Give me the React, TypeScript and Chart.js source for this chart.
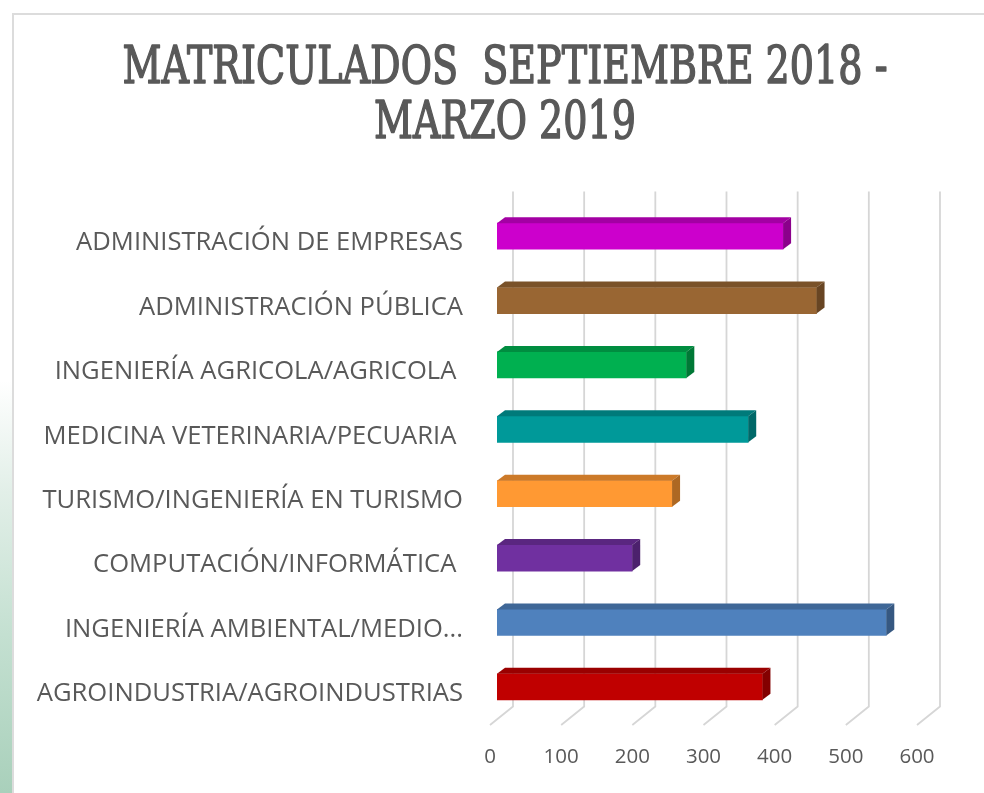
import React, { useEffect, useRef } from "react";
import { Chart, registerables } from "chart.js";

Chart.register(...registerables);

// ---- data ----
const categories = [
  "ADMINISTRACIÓN DE EMPRESAS",
  "ADMINISTRACIÓN PÚBLICA",
  "INGENIERÍA AGRICOLA/AGRICOLA ",
  "MEDICINA VETERINARIA/PECUARIA ",
  "TURISMO/INGENIERÍA EN TURISMO",
  "COMPUTACIÓN/INFORMÁTICA ",
  "INGENIERÍA AMBIENTAL/MEDIO...",
  "AGROINDUSTRIA/AGROINDUSTRIAS",
];
const values = [402, 449, 266, 353, 246, 190, 547, 373];
const barColors = [
  "#CC00CC",
  "#996633",
  "#00B050",
  "#009999",
  "#FF9933",
  "#7030A0",
  "#4F81BD",
  "#C00000",
];
const xTicks = [0, 100, 200, 300, 400, 500, 600];
const titleLines = ["MATRICULADOS  SEPTIEMBRE 2018 -", "MARZO 2019"];

// ---- styling constants ----
const TEXT = "#595959";
const GRID = "#d6d6d6";
const BAR_DX = 8;
const BAR_DY = 6;
const WALL_DX = 16;
const WALL_DY = 12.5;
const FLOOR_DX = 7;
const FLOOR_DY = 6;

function shade(hex: string, f: number): string {
  const n = parseInt(hex.slice(1), 16);
  const r = Math.round(((n >> 16) & 255) * f);
  const g = Math.round(((n >> 8) & 255) * f);
  const b = Math.round((n & 255) * f);
  return `rgb(${r},${g},${b})`;
}

const threeDPlugin = {
  id: "threeD",
  beforeDatasetsDraw(chart: any) {
    const { ctx, chartArea, scales } = chart;
    const x = scales.x;
    ctx.save();
    ctx.strokeStyle = GRID;
    ctx.lineWidth = 1.8;
    for (const v of xTicks) {
      const px = x.getPixelForValue(v);
      ctx.beginPath();
      ctx.moveTo(px + WALL_DX, chartArea.top - WALL_DY);
      ctx.lineTo(px + WALL_DX, chartArea.bottom - WALL_DY);
      ctx.lineTo(px - FLOOR_DX, chartArea.bottom + FLOOR_DY);
      ctx.stroke();
    }
    ctx.restore();
  },
  afterDatasetsDraw(chart: any) {
    const { ctx } = chart;
    const meta = chart.getDatasetMeta(0);
    ctx.save();
    meta.data.forEach((el: any, i: number) => {
      const { x, y, base, height } = el.getProps(["x", "y", "base", "height"], true);
      const t = y - height / 2;
      const b = y + height / 2;
      const c = barColors[i];
      ctx.fillStyle = shade(c, 0.8);
      ctx.beginPath();
      ctx.moveTo(base, t);
      ctx.lineTo(base + BAR_DX, t - BAR_DY);
      ctx.lineTo(x + BAR_DX, t - BAR_DY);
      ctx.lineTo(x, t);
      ctx.closePath();
      ctx.fill();
      ctx.fillStyle = shade(c, 0.68);
      ctx.beginPath();
      ctx.moveTo(x, t);
      ctx.lineTo(x + BAR_DX, t - BAR_DY);
      ctx.lineTo(x + BAR_DX, b - BAR_DY);
      ctx.lineTo(x, b);
      ctx.closePath();
      ctx.fill();
    });
    ctx.restore();
  },
};

const titlePlugin = {
  id: "condensedTitle",
  afterDraw(chart: any) {
    const { ctx } = chart;
    ctx.save();
    ctx.font = '52px "DejaVu Serif"';
    ctx.fillStyle = TEXT;
    ctx.strokeStyle = TEXT;
    ctx.lineJoin = "round";
    ctx.textAlign = "center";
    ctx.textBaseline = "alphabetic";
    const w0 = ctx.measureText(titleLines[0]).width;
    const sx = 765 / w0;
    titleLines.forEach((line, i) => {
      ctx.save();
      ctx.translate(505, 83 + i * 55);
      ctx.scale(sx, 1);
      ctx.lineWidth = 1.6;
      ctx.fillText(line, 0, 0);
      ctx.strokeText(line, 0, 0);
      ctx.restore();
    });
    ctx.restore();
  },
};

export default function App() {
  const canvasRef = useRef<HTMLCanvasElement | null>(null);

  useEffect(() => {
    if (!canvasRef.current) return;
    const chart = new Chart(canvasRef.current, {
      type: "bar",
      data: {
        labels: categories,
        datasets: [
          {
            data: values,
            backgroundColor: barColors,
            borderWidth: 0,
            barThickness: 26,
          },
        ],
      },
      options: {
        indexAxis: "y",
        animation: false,
        responsive: true,
        maintainAspectRatio: false,
        layout: { padding: { top: 204, right: 60, bottom: 24, left: 0 } },
        plugins: {
          legend: { display: false },
          tooltip: { enabled: false },
          title: { display: false },
        },
        scales: {
          x: {
            min: 0,
            max: 600,
            ticks: {
              stepSize: 100,
              color: TEXT,
              font: { family: "'Open Sans'", size: 20.5 },
              labelOffset: -7,
              padding: 26,
            },
            grid: { display: false, drawTicks: false },
            border: { display: false },
            afterFit: (s: any) => {
              s.height = 50;
            },
          },
          y: {
            ticks: {
              color: TEXT,
              font: { family: "'Open Sans'", size: 25.6 },
              padding: 34,
              labelOffset: 7,
              autoSkip: false,
            },
            grid: { display: false, drawTicks: false },
            border: { display: false },
            afterFit: (s: any) => {
              s.width = 497;
            },
          },
        },
      },
      plugins: [threeDPlugin, titlePlugin],
    });
    return () => chart.destroy();
  }, []);

  return (
    <div
      style={{
        position: "absolute",
        left: 0,
        top: 0,
        width: 984,
        height: 793,
        background: "#ffffff",
        overflow: "hidden",
      }}
    >
      <div
        style={{
          position: "absolute",
          left: 0,
          top: 0,
          width: 12,
          height: 793,
          background:
            "linear-gradient(to bottom, #ffffff 0%, #ffffff 48%, #e2efe8 62%, #c4e0d1 80%, #a9d0bb 100%)",
        }}
      />
      <div
        style={{
          position: "absolute",
          left: 12,
          top: 13,
          width: 990,
          height: 800,
          borderTop: "2px solid #dcdcdc",
          borderLeft: "2px solid #dcdcdc",
        }}
      />
      <div style={{ position: "absolute", left: 0, top: 0, width: 984, height: 793 }}>
        <canvas ref={canvasRef} />
      </div>
    </div>
  );
}
